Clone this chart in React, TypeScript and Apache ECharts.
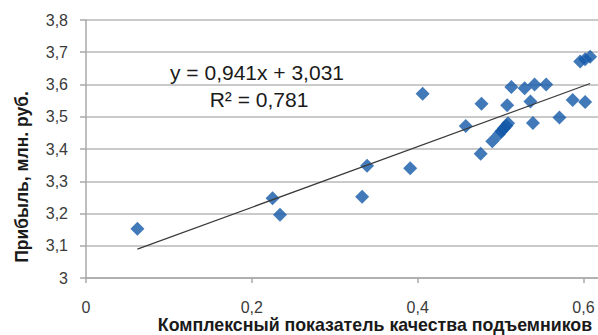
import React, { useEffect, useRef } from "react";
import * as echarts from "echarts";

const xValues = [0.062, 0.225, 0.234, 0.333, 0.339, 0.391, 0.406, 0.458, 0.476, 0.477, 0.490, 0.498, 0.501, 0.504, 0.507, 0.509, 0.508, 0.513, 0.529, 0.536, 0.539, 0.541, 0.555, 0.571, 0.587, 0.602, 0.596, 0.602, 0.608];
const yValues = [3.153, 3.247, 3.196, 3.252, 3.348, 3.340, 3.571, 3.471, 3.385, 3.540, 3.424, 3.446, 3.455, 3.464, 3.472, 3.480, 3.536, 3.592, 3.588, 3.547, 3.481, 3.600, 3.600, 3.498, 3.552, 3.546, 3.671, 3.678, 3.686];
const slope = 0.941;
const intercept = 3.031;
const trendX = [0.062, 0.608];
const xTicks = [0, 0.2, 0.4, 0.6];
const equationText = "y = 0,941x + 3,031";
const r2Text = "R² = 0,781";
const xTitle = "Комплексный показатель качества подъемников";
const yTitle = "Прибыль, млн. руб.";

const fmt = (v: number) => String(+Number(v).toFixed(1)).replace(".", ",");

export default function App() {
  const ref = useRef<HTMLDivElement>(null);
  useEffect(() => {
    if (!ref.current) return;
    const chart = echarts.init(ref.current, null, { renderer: "svg" });
    const font = "Liberation Sans, Arial, sans-serif";
    chart.setOption({
      animation: false,
      grid: { left: 86, right: 0, top: 20, bottom: 57, containLabel: false },
      xAxis: {
        type: "value",
        min: 0,
        max: 0.6175,
        interval: 0.2,
        axisLine: { show: true, lineStyle: { color: "#a8a8a8", width: 1.5 } },
        axisTick: { show: true, inside: false, length: 5, customValues: xTicks, lineStyle: { color: "#a8a8a8", width: 1.5 } },
        axisLabel: { customValues: xTicks, formatter: fmt, fontSize: 16, color: "#3a3a3a", fontFamily: font, margin: 21 },
        splitLine: { show: false },
      },
      yAxis: {
        type: "value",
        min: 3,
        max: 3.8,
        interval: 0.1,
        axisLine: { show: true, lineStyle: { color: "#a8a8a8", width: 1.5 } },
        axisTick: { show: true, length: 6, lineStyle: { color: "#a8a8a8", width: 1.5 } },
        axisLabel: { formatter: fmt, fontSize: 16, color: "#3a3a3a", fontFamily: font, margin: 18 },
        splitLine: { show: true, lineStyle: { color: "#b8b8b8", width: 1.5 } },
      },
      series: [
        {
          type: "line",
          data: trendX.map((x) => [x, slope * x + intercept]),
          showSymbol: false,
          symbol: "none",
          lineStyle: { color: "#3a3a3a", width: 1.2 },
          z: 3,
        },
        {
          type: "scatter",
          data: xValues.map((x, i) => [x, yValues[i]]),
          symbol: "diamond",
          symbolSize: 14,
          itemStyle: { color: "#1158a8" },
          z: 2,
        },
      ],
      graphic: [
        {
          type: "text",
          x: 257,
          y: 72,
          style: { text: equationText, fontSize: 21, fontFamily: font, fill: "#1a1a1a", align: "center", verticalAlign: "middle" },
        },
        {
          type: "text",
          x: 259,
          y: 99,
          style: { text: r2Text, fontSize: 21, fontFamily: font, fill: "#1a1a1a", align: "center", verticalAlign: "middle" },
        },
        {
          type: "text",
          x: 375,
          y: 325,
          style: { text: xTitle, fontSize: 17.8, fontWeight: "bold", fontFamily: font, fill: "#1a1a1a", align: "center", verticalAlign: "middle" },
        },
        {
          type: "text",
          x: 22,
          y: 177,
          rotation: Math.PI / 2,
          style: { text: yTitle, fontSize: 17.5, fontWeight: "bold", fontFamily: font, fill: "#1a1a1a", align: "center", verticalAlign: "middle" },
        },
      ],
    });
    return () => chart.dispose();
  }, []);
  return <div ref={ref} style={{ width: 598, height: 335, position: "absolute", left: 0, top: 0 }} />;
}
